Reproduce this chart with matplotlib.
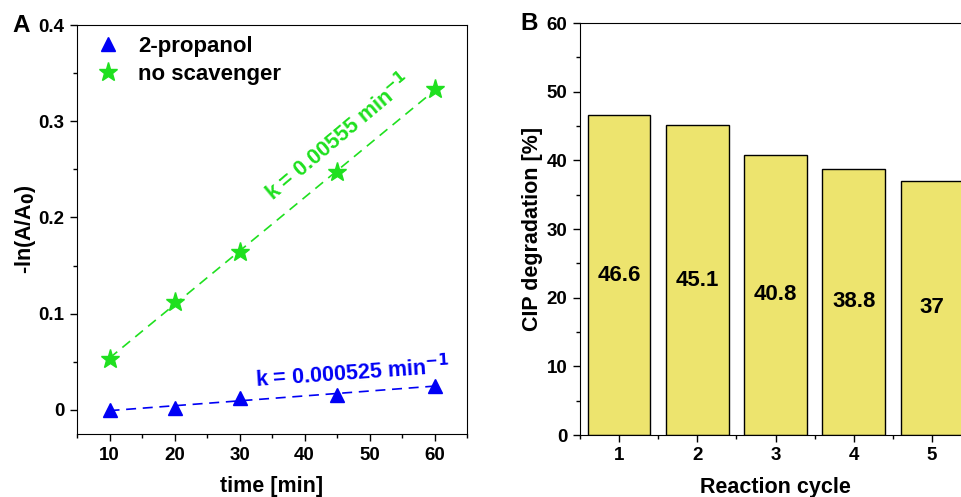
import numpy as np
import matplotlib
matplotlib.use("Agg")
import matplotlib.pyplot as plt
from matplotlib.ticker import MultipleLocator

plt.rcParams['font.family'] = ['Liberation Sans', 'DejaVu Sans']
plt.rcParams['font.weight'] = 'bold'
plt.rcParams['mathtext.default'] = 'bf'

time_min = [10, 20, 30, 45, 60]
propanol = [0.0, 0.002, 0.012, 0.016, 0.025]
no_scavenger = [0.053, 0.112, 0.164, 0.247, 0.333]
k_labels = ["k = 0.000525 min$^{-1}$", "k = 0.00555 min$^{-1}$"]

cycles = [1, 2, 3, 4, 5]
degradation = [46.6, 45.1, 40.8, 38.8, 37]
deg_labels = ["46.6", "45.1", "40.8", "38.8", "37"]

W, H = 961, 497
fig = plt.figure(figsize=(W/100, H/100), dpi=100)

# Panel A
axA = fig.add_axes([77/W, 1-434/H, (467-77)/W, (434-25)/H])
t = np.array(time_min, dtype=float)
blue = '#0000F5'
green = '#1FE01F'
for y, c, m, ms, lab in [(propanol, blue, '^', 10, '2-propanol'),
                          (no_scavenger, green, '*', 14, 'no scavenger')]:
    axA.plot(t, y, linestyle='none', marker=m, color=c, ms=ms, label=lab)
    p = np.polyfit(t, y, 1)
    axA.plot(t, np.polyval(p, t), '--', color=c, lw=1.2, dashes=(6, 4))
axA.set_xlim(5, 65)
axA.set_ylim(-0.025, 0.4)
axA.xaxis.set_major_locator(MultipleLocator(10))
axA.xaxis.set_minor_locator(MultipleLocator(5))
axA.yaxis.set_minor_locator(MultipleLocator(0.05))
axA.set_yticks([0, 0.1, 0.2, 0.3, 0.4])
axA.set_yticklabels(['0', '0.1', '0.2', '0.3', '0.4'])
axA.tick_params(axis='both', which='major', direction='out', length=5, width=1, labelsize=13.5, pad=4)
axA.tick_params(axis='both', which='minor', direction='out', length=3, width=1)
axA.set_xlabel('time [min]', fontsize=15.5, fontweight='bold', labelpad=9)
axA.set_ylabel('-ln(A/A$_0$)', fontsize=15.5, fontweight='bold', labelpad=0)
leg = axA.legend(loc='upper left', frameon=False, fontsize=16, handletextpad=0.55,
                 handlelength=1.6, borderaxespad=0.0, labelspacing=0.3,
                 bbox_to_anchor=(0.012, 0.995))
axA.text(47.3, 0.039, k_labels[0], color=blue, fontsize=15.5, fontweight='bold',
         rotation=4, ha='center', va='center')
axA.text(45.2, 0.283, k_labels[1], color=green, fontsize=15.5, fontweight='bold',
         rotation=40, ha='center', va='center')
fig.text(12/W, 1-25/H, 'A', fontsize=17.5, fontweight='bold', va='center', ha='left')

# Panel B
axB = fig.add_axes([580/W, 1-435/H, (971-580)/W, (435-23)/H])
axB.bar(cycles, degradation, width=0.8, color='#EDE46E', edgecolor='black', lw=1)
for x, v, s in zip(cycles, degradation, deg_labels):
    axB.text(x, v/2, s, ha='center', va='center', fontsize=16, fontweight='bold')
axB.set_xlim(0.5, 5.5)
axB.set_ylim(0, 60)
axB.set_xticks(cycles)
axB.xaxis.set_minor_locator(MultipleLocator(0.5))
axB.yaxis.set_major_locator(MultipleLocator(10))
axB.yaxis.set_minor_locator(MultipleLocator(5))
axB.tick_params(axis='both', which='major', direction='out', length=5, width=1, labelsize=13.5, pad=4)
axB.tick_params(axis='both', which='minor', direction='out', length=3, width=1)
axB.set_xlabel('Reaction cycle', fontsize=15.5, fontweight='bold', labelpad=9)
axB.set_ylabel('CIP degradation [%]', fontsize=15.5, fontweight='bold', labelpad=3)
fig.text(520/W, 1-24/H, 'B', fontsize=17.5, fontweight='bold', va='center', ha='left')

fig.savefig('out.png', dpi=100)
